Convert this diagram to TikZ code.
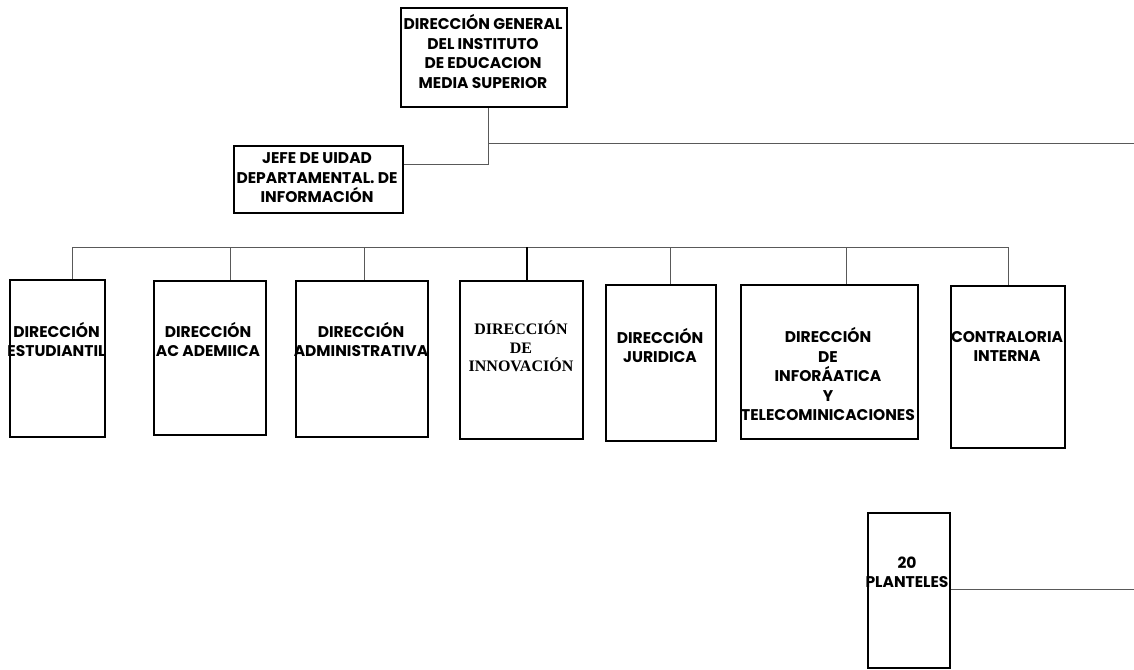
\documentclass[tikz,border=0pt]{standalone}
\usepackage{fontspec}
\setmainfont{Poppins}
\newfontfamily\serifb{Liberation Serif}
\begin{document}
\begin{tikzpicture}[x=1pt,y=-1pt,
  box/.style={draw=black, line width=2pt, inner sep=0pt, anchor=north west},
  lbl/.style={align=center, font=\fontsize{15.5}{19.5}\selectfont\bfseries, inner sep=0pt},
  slbl/.style={align=center, font=\fontsize{16}{18.5}\selectfont\serifb\bfseries, inner sep=0pt},
  link/.style={draw=black!65, line width=0.9pt},
  blink/.style={draw=black, line width=1.6pt}]
\useasboundingbox (0,0) rectangle (1134,669);
% boxes
\node[box, minimum width=166pt, minimum height=99pt] (top) at (400,7) {};
\node[box, minimum width=169pt, minimum height=67pt] (jefe) at (233,145) {};
\node[box, minimum width=95pt, minimum height=157pt] (b1) at (9,279) {};
\node[box, minimum width=112pt, minimum height=154pt] (b2) at (153,280) {};
\node[box, minimum width=132pt, minimum height=156pt] (b3) at (295,280) {};
\node[box, minimum width=123pt, minimum height=158pt] (b4) at (459,280) {};
\node[box, minimum width=110pt, minimum height=156pt] (b5) at (605,284) {};
\node[box, minimum width=177pt, minimum height=154pt] (b6) at (740,284) {};
\node[box, minimum width=114pt, minimum height=162pt] (b7) at (950,285) {};
\node[box, minimum width=82pt, minimum height=155pt] (pl) at (867,512) {};
% texts
\node[lbl] (ttop) at (483,51.5) {DIRECCIÓN GENERAL\\DEL INSTITUTO\\DE EDUCACION\\MEDIA SUPERIOR};
\node[lbl] (tjefe) at (317,178) {JEFE DE UIDAD\\DEPARTAMENTAL. DE\\INFORMACIÓN};
\node[lbl] (t1) at (56.5,339.5) {DIRECCIÓN\\ESTUDIANTIL};
\node[lbl] (t2) at (208,339.5) {DIRECCIÓN\\AC ADEMIICA};
\node[lbl] (t3) at (361,339.5) {DIRECCIÓN\\ADMINISTRATIVA};
\node[slbl] (t4) at (521,346.5) {DIRECCIÓN\\DE\\INNOVACIÓN};
\node[lbl] (t5) at (660,345.5) {DIRECCIÓN\\JURIDICA};
\node[lbl] (t6) at (828,374) {DIRECCIÓN\\DE\\INFORÁATICA\\Y\\TELECOMINICACIONES};
\node[lbl] (t7) at (1007,346.5) {CONTRALORIA\\INTERNA};
\node[lbl] (tpl) at (907,572.5) {20\\PLANTELES};
% connectors top
\coordinate (j1) at (488,143);
\coordinate (j2) at (488,164);
\coordinate (e1) at (1134,143);
\coordinate (e2) at (1134,589);
\draw[link] (top.south -| j1) -- (j2) -- (jefe.east |- j2);
\draw[link] (j1) -- (e1);
\draw[link] (pl.east |- e2) -- (e2);
% bus
\coordinate (d1) at (72,247);
\coordinate (d2) at (230,247);
\coordinate (d3) at (364,247);
\coordinate (d4) at (527,247);
\coordinate (d5) at (670,247);
\coordinate (d6) at (846,247);
\coordinate (d7) at (1008,247);
\draw[link] (d1) -- (d7);
\draw[link] (d1) -- (d1 |- b1.north);
\draw[link] (d2) -- (d2 |- b2.north);
\draw[link] (d3) -- (d3 |- b3.north);
\draw[blink] (d4) -- (d4 |- b4.north);
\draw[link] (d5) -- (d5 |- b5.north);
\draw[link] (d6) -- (d6 |- b6.north);
\draw[link] (d7) -- (d7 |- b7.north);
\end{tikzpicture}
\end{document}
